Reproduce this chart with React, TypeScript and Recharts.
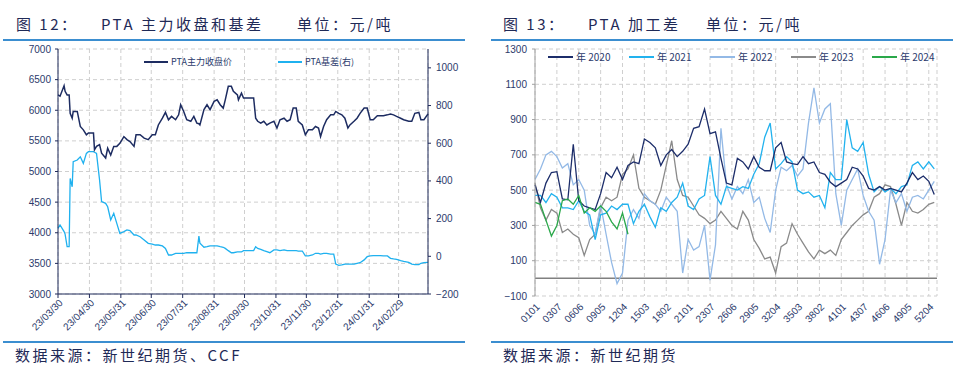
import React from "react";
import {
  LineChart,
  Line,
  XAxis,
  YAxis,
  CartesianGrid,
  ReferenceLine,
  Legend,
} from "recharts";

const NAVY_TEXT = "#2b3a6b";
const TITLE_TEXT = "#1f2a57";
const SEP_BLUE = "#3b8ed0";
const GRID = "#cfcfcf";
const CJK = "'Noto Sans CJK SC', 'Noto Sans', sans-serif";

// 图12：PTA主力收盘价 与 基差
const PTA_DATES = [
  "2023-03-30", "2023-04-01", "2023-04-05", "2023-04-06", "2023-04-08", "2023-04-10", "2023-04-11", "2023-04-13", "2023-04-14", "2023-04-18",
  "2023-04-21", "2023-04-24", "2023-04-27", "2023-04-29", "2023-05-04", "2023-05-05", "2023-05-07", "2023-05-10", "2023-05-12", "2023-05-16",
  "2023-05-18", "2023-05-21", "2023-05-24", "2023-05-27", "2023-05-30", "2023-06-03", "2023-06-06", "2023-06-09", "2023-06-13", "2023-06-15",
  "2023-06-19", "2023-06-23", "2023-06-27", "2023-07-01", "2023-07-04", "2023-07-07", "2023-07-11", "2023-07-14", "2023-07-17", "2023-07-20",
  "2023-07-24", "2023-07-27", "2023-07-29", "2023-08-01", "2023-08-04", "2023-08-08", "2023-08-11", "2023-08-14", "2023-08-16", "2023-08-17",
  "2023-08-21", "2023-08-24", "2023-08-27", "2023-08-31", "2023-09-03", "2023-09-06", "2023-09-09", "2023-09-11", "2023-09-14", "2023-09-17",
  "2023-09-19", "2023-09-23", "2023-09-24", "2023-09-27", "2023-09-29", "2023-10-04", "2023-10-09", "2023-10-11", "2023-10-13", "2023-10-16",
  "2023-10-19", "2023-10-22", "2023-10-25", "2023-10-29", "2023-11-01", "2023-11-04", "2023-11-08", "2023-11-11", "2023-11-14", "2023-11-17",
  "2023-11-20", "2023-11-22", "2023-11-26", "2023-11-29", "2023-12-02", "2023-12-06", "2023-12-09", "2023-12-12", "2023-12-14", "2023-12-17",
  "2023-12-20", "2023-12-24", "2023-12-27", "2023-12-29", "2024-01-01", "2024-01-04", "2024-01-07", "2024-01-10", "2024-01-12", "2024-01-16",
  "2024-01-19", "2024-01-22", "2024-01-26", "2024-01-29", "2024-02-01", "2024-02-04", "2024-02-08", "2024-02-11", "2024-02-14", "2024-02-18",
  "2024-02-21", "2024-02-24", "2024-02-27", "2024-03-02", "2024-03-05", "2024-03-10", "2024-03-13", "2024-03-16", "2024-03-20", "2024-03-22",
  "2024-03-25", "2024-03-29",
];

const PTA_PRICE = [
  6250, 6230, 6400, 6310, 6250, 6250, 5950, 5870, 5980, 5980,
  5735, 5680, 5600, 5630, 5630, 5355, 5410, 5440, 5300, 5220,
  5380, 5270, 5410, 5410, 5460, 5570, 5520, 5490, 5410, 5600,
  5600, 5545, 5520, 5600, 5600, 5760, 5870, 5965, 5845, 5900,
  5845, 5925, 6090, 5980, 5845, 5820, 5900, 5790, 5780, 5760,
  6010, 6090, 6010, 6145, 6170, 6090, 6035, 6170, 6390, 6390,
  6310, 6250, 6170, 6280, 6200, 6200, 6200, 5870, 5820, 5790,
  5820, 5760, 5790, 5820, 5710, 5845, 5870, 5820, 5845, 6035,
  6035, 5820, 5760, 5600, 5680, 5680, 5735, 5710, 5570, 5735,
  5845, 5925, 5925, 5980, 5950, 5925, 5870, 5710, 5760, 5820,
  5870, 5950, 6035, 6035, 5845, 5845, 5910, 5910, 5910, 5925,
  5940, 5925, 5900, 5870, 5845, 5820, 5820, 5950, 5965, 5845,
  5845, 5940,
];

const PTA_BASIS = [
  148, 166, 131, 118, 51, 51, 413, 369, 502, 511,
  528, 493, 546, 555, 555, 552, 546, 405, 290, 281,
  263, 193, 228, 175, 122, 131, 140, 136, 113, 113,
  104, 87, 69, 65, 60, 60, 55, 42, 7, 7,
  16, 16, 16, 16, 19, 19, 19, 19, 107, 70,
  48, 51, 55, 55, 55, 51, 48, 42, 30, 19,
  19, 23, 23, 23, 30, 30, 30, 51, 42, 37,
  30, 25, 19, 34, 34, 30, 34, 30, 30, 30,
  30, 28, 28, 2, 2, 7, 16, 16, 12, 16,
  16, 12, 12, -41, -48, -46, -41, -41, -41, -41,
  -37, -34, -19, -2, 2, 4, 4, 4, 2, 2,
  -11, -14, -16, -23, -27, -32, -41, -44, -44, -37,
  -34, -32,
];

const PTA_TICK_DATES = [
  "2023-03-30", "2023-04-30", "2023-05-31", "2023-06-30", "2023-07-31", "2023-08-31",
  "2023-09-30", "2023-10-31", "2023-11-30", "2023-12-31", "2024-01-31", "2024-02-29",
];
const PTA_START = "2023-03-30";
const PTA_END = "2024-03-29";
const PRICE_TICKS = [3000, 3500, 4000, 4500, 5000, 5500, 6000, 6500, 7000];
const BASIS_TICKS = [-200, 0, 200, 400, 600, 800, 1000];

// 图13：PTA加工差（按周日序号）
const WEEK_LABELS = [
  "0101", "0307", "0606", "0905", "1204", "1503", "1802", "2101", "2307", "2606",
  "2905", "3204", "3503", "3802", "4101", "4307", "4606", "4905", "5204",
];

const Y2020 = [
  530, 430, 540, 600, 605, 450, 445, 760, 440, 410,
  400, 390, 480, 600, 570, 630, 560, 640, 660, 650,
  790, 770, 740, 640, 700, 730, 690, 720, 760, 850,
  860, 960, 820, 830, 680, 540, 530, 680, 660, 620,
  690, 630, 610, 610, 740, 770, 660, 650, 645, 690,
  650, 660, 600, 590, 545, 520, 540, 560, 630, 620,
  580, 510, 500, 520, 500, 510, 500, 490, 540, 600,
  560, 580, 550, 475,
];

const Y2021 = [
  470, 470, 430, 480, 460, 400, 400, 390, 440, 380,
  360, 220, 360, 370, 410, 390, 420, 420, 310, 380,
  420, 350, 290, 400, 380, 430, 460, 540, 410, 390,
  450, 470, 690, 470, 420, 520, 510, 500, 520, 510,
  590, 650, 800, 880, 620, 650, 690, 660, 500, 480,
  490, 460, 470, 400, 600, 560, 560, 900, 740, 720,
  770, 590, 490, 520, 490, 510, 480, 520, 530, 640,
  660, 620, 660, 620,
];

const Y2022 = [
  560, 620, 700, 720, 690, 625, 650, 530, 560, 500,
  300, 250, 416, 250, 90, -30, 30, 330, 390, 340,
  480, 440, 420, 380, 460, 420, 380, 30, 220, 160,
  180, 300, -10, 190, 850, 530, 450, 520, 480, 560,
  430, 460, 340, 260, 500, 630, 610, 640, 580, 620,
  880, 1080, 880, 960, 990, 480, 300, 500, 560, 620,
  470, 380, 330, 80, 220, 500, 430, 480, 380, 460,
  470, 450, 500, 550,
];

const Y2023 = [
  540, 400, 330, 390, 370, 260, 280, 250, 230, 130,
  220, 250, 400, 460, 440, 460, 590, 620, 700, 510,
  460, 440, 420, 500, 640, 780, 560, 470, 460, 410,
  360, 340, 310, 330, 380, 340, 300, 280, 380, 330,
  220, 170, 110, 120, 30, 180, 200, 310, 250, 200,
  150, 110, 160, 140, 160, 130, 220, 260, 300, 330,
  360, 380, 460, 480, 530, 520, 420, 300, 430, 380,
  370, 390, 420, 430,
];

const Y2024 = [
  430, 420, 330, 240, 300, 440, 450, 420, 470, 370,
  400, 380, 410, 380, 320, 280, 370, 250,
];

const MARGIN_TICKS = [-100, 100, 300, 500, 700, 900, 1100, 1300];

// ---- helpers ----
const toUtc = (s: string) => {
  const [y, m, d] = s.split("-").map(Number);
  return Date.UTC(y, m - 1, d);
};
const dayOf = (s: string) => (toUtc(s) - toUtc(PTA_START)) / 86400000;

const ptaRows = PTA_DATES.map((d, i) => ({
  day: dayOf(d),
  price: PTA_PRICE[i],
  basis: PTA_BASIS[i],
}));
const ptaTicks = PTA_TICK_DATES.map(dayOf);
const ptaLabel = (day: number) => {
  const hit = PTA_TICK_DATES.find((d) => dayOf(d) === day);
  return hit ? hit.slice(2).replace(/-/g, "/") : "";
};

const marginRows = Y2020.map((_, i) => ({
  i,
  y2020: Y2020[i],
  y2021: Y2021[i],
  y2022: Y2022[i],
  y2023: Y2023[i],
  y2024: i < Y2024.length ? Y2024[i] : null,
}));
const weekTicks = WEEK_LABELS.map((_, k) => k * 4);

const minus = (v: number) => (v < 0 ? "\u2212" + Math.abs(v) : String(v));

const SlantTick = (props: any) => {
  const { x, y, payload, fmt } = props;
  return (
    <g transform={`translate(${x + 3},${y + 1})`}>
      <text
        textAnchor="end"
        transform="rotate(-45)"
        fontSize={10}
        fill={NAVY_TEXT}
        dy="0.35em"
      >
        {fmt(payload.value)}
      </text>
    </g>
  );
};

type LegendItem = { name: string; color: string };

const LegendRow = ({
  items,
  itemWidth,
  lineW,
  fontSize,
  font,
}: {
  items: LegendItem[];
  itemWidth: number;
  lineW: number;
  fontSize: number;
  font: string;
}) => (
  <div style={{ display: "flex" }}>
    {items.map((it) => (
      <div
        key={it.name}
        style={{ width: itemWidth, display: "flex", alignItems: "center" }}
      >
        <span
          style={{
            display: "inline-block",
            width: lineW,
            height: 2,
            background: it.color,
            marginRight: 3,
          }}
        />
        <span style={{ fontSize, color: NAVY_TEXT, fontFamily: font, whiteSpace: "nowrap" }}>
          {it.name}
        </span>
      </div>
    ))}
  </div>
);

const PTA_LEGEND: LegendItem[] = [
  { name: "PTA主力收盘价", color: "#1d2c61" },
  { name: "PTA基差(右)", color: "#1fb1ef" },
];

const YEAR_LEGEND: LegendItem[] = [
  { name: "年 2020", color: "#1c2d6a" },
  { name: "年 2021", color: "#22b2ee" },
  { name: "年 2022", color: "#93b9e6" },
  { name: "年 2023", color: "#8a8a8a" },
  { name: "年 2024", color: "#2aa84a" },
];

const Sep = ({ left, top, width }: { left: number; top: number; width: number }) => (
  <div
    style={{
      position: "absolute",
      left,
      top,
      width,
      height: 2,
      background: SEP_BLUE,
    }}
  />
);

const Txt = ({ left, top, children, size = 15 }: any) => (
  <div
    style={{
      position: "absolute",
      left,
      top,
      fontSize: size,
      lineHeight: `${size + 2}px`,
      color: TITLE_TEXT,
      fontFamily: CJK,
      letterSpacing: 2.5,
      whiteSpace: "nowrap",
    }}
  >
    {children}
  </div>
);

export default function App() {
  return (
    <div
      style={{
        position: "absolute",
        left: 0,
        top: 0,
        width: 958,
        height: 371,
        background: "#fff",
        fontFamily: "'Liberation Sans', Arial, sans-serif",
        overflow: "hidden",
      }}
    >
      {/* titles */}
      <Txt left={16} top={15}>图 12：</Txt>
      <Txt left={101} top={15}>PTA 主力收盘和基差</Txt>
      <Txt left={297} top={15}>单位：元/吨</Txt>
      <Txt left={503} top={15}>图 13：</Txt>
      <Txt left={588} top={15}>PTA 加工差</Txt>
      <Txt left={706} top={15}>单位：元/吨</Txt>

      <Sep left={3} top={39} width={462} />
      <Sep left={491} top={39} width={462} />
      <Sep left={3} top={341} width={462} />
      <Sep left={491} top={341} width={462} />

      <Txt left={15} top={346}>数据来源：新世纪期货、CCF</Txt>
      <Txt left={503} top={346}>数据来源：新世纪期货</Txt>

      {/* 图12 */}
      <div style={{ position: "absolute", left: 0, top: 0 }}>
        <LineChart
          width={480}
          height={340}
          data={ptaRows}
          margin={{ top: 49, right: 0, left: 0, bottom: 0 }}
        >
          <CartesianGrid
            yAxisId="left"
            stroke={GRID}
            strokeDasharray="4 3"
          />
          <XAxis
            dataKey="day"
            type="number"
            domain={[0, dayOf(PTA_END)]}
            ticks={ptaTicks}
            height={46}
            stroke="#1f2a5a"
            tickSize={4}
            tick={(p: any) => <SlantTick {...p} fmt={ptaLabel} />}
          />
          <YAxis
            yAxisId="left"
            domain={[3000, 7000]}
            ticks={PRICE_TICKS}
            width={58}
            stroke="#1f2a5a"
            tickSize={3}
            tickMargin={4}
            tick={{ fontSize: 10, fill: NAVY_TEXT }}
          />
          <YAxis
            yAxisId="right"
            orientation="right"
            domain={[-200, 1100]}
            ticks={BASIS_TICKS}
            width={52}
            stroke="#1f2a5a"
            tickSize={3}
            tickMargin={5}
            tickFormatter={minus}
            tick={{ fontSize: 10, fill: NAVY_TEXT }}
          />
          <Legend
            layout="horizontal"
            verticalAlign="middle"
            align="center"
            wrapperStyle={{ left: 144, top: 55, width: 280 }}
            content={() => (
              <LegendRow items={PTA_LEGEND} itemWidth={134} lineW={24} fontSize={9} font={CJK} />
            )}
          />
          <Line
            yAxisId="right"
            dataKey="basis"
            name="PTA基差(右)"
            stroke="#1fb1ef"
            strokeWidth={1.3}
            dot={false}
            isAnimationActive={false}
          />
          <Line
            yAxisId="left"
            dataKey="price"
            name="PTA主力收盘价"
            stroke="#1d2c61"
            strokeWidth={1.5}
            dot={false}
            isAnimationActive={false}
          />
        </LineChart>
      </div>

      {/* 图13 */}
      <div style={{ position: "absolute", left: 480, top: 0 }}>
        <LineChart
          width={478}
          height={340}
          data={marginRows}
          margin={{ top: 49, right: 21, left: 0, bottom: 0 }}
        >
          <CartesianGrid stroke={GRID} strokeDasharray="4 3" />
          <XAxis
            dataKey="i"
            type="number"
            domain={[0, 73.5]}
            ticks={weekTicks}
            height={44}
            axisLine={false}
            tickLine={false}
            tick={(p: any) => (
              <SlantTick {...p} fmt={(v: number) => WEEK_LABELS[v / 4]} />
            )}
          />
          <YAxis
            domain={[-100, 1300]}
            ticks={MARGIN_TICKS}
            width={55}
            stroke="#a0a0a0"
            tickSize={3}
            tickMargin={5}
            tickFormatter={minus}
            tick={{ fontSize: 10, fill: NAVY_TEXT }}
          />
          <ReferenceLine y={0} stroke="#808080" strokeWidth={1.5} />
          <Legend
            layout="horizontal"
            verticalAlign="middle"
            align="center"
            wrapperStyle={{ left: 68, top: 49, width: 410 }}
            content={() => (
              <LegendRow items={YEAR_LEGEND} itemWidth={81} lineW={25} fontSize={10} font={CJK} />
            )}
          />
          <Line dataKey="y2023" stroke="#8a8a8a" strokeWidth={1.3} dot={false} isAnimationActive={false} />
          <Line dataKey="y2022" stroke="#93b9e6" strokeWidth={1.3} dot={false} isAnimationActive={false} />
          <Line dataKey="y2021" stroke="#22b2ee" strokeWidth={1.3} dot={false} isAnimationActive={false} />
          <Line dataKey="y2020" stroke="#1c2d6a" strokeWidth={1.3} dot={false} isAnimationActive={false} />
          <Line dataKey="y2024" stroke="#2aa84a" strokeWidth={1.3} dot={false} isAnimationActive={false} connectNulls={false} />
        </LineChart>
      </div>
    </div>
  );
}
